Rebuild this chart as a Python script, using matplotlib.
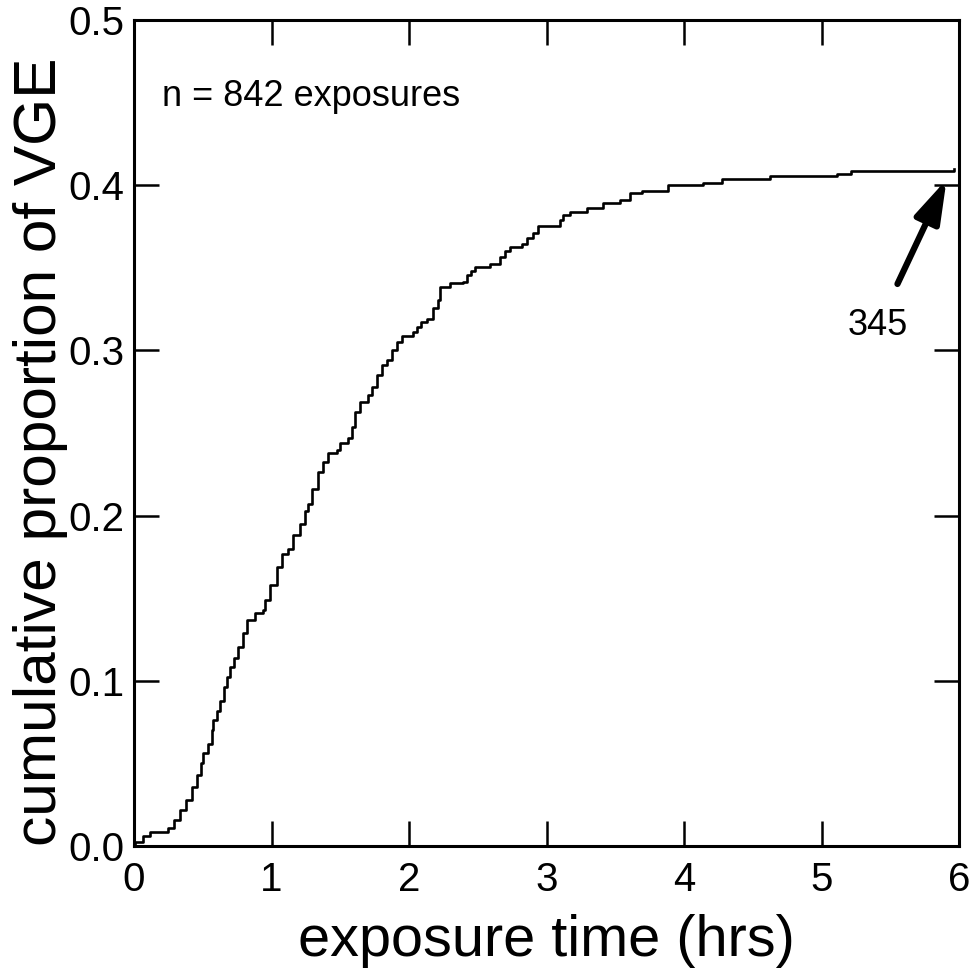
import matplotlib
matplotlib.use("Agg")
import matplotlib.pyplot as plt

plt.rcParams['font.family'] = ['Liberation Sans', 'DejaVu Sans']

# step change points of the cumulative curve (hrs, proportion)
exposure_hrs = [
    0.00, 0.01, 0.065, 0.115, 0.25, 0.29, 0.335, 0.38, 0.42, 0.46,
    0.49, 0.505, 0.535, 0.565, 0.572, 0.60, 0.625, 0.655, 0.674, 0.698,
    0.73, 0.759, 0.79, 0.82, 0.88, 0.94, 0.953, 0.989, 1.038, 1.074,
    1.122, 1.159, 1.207, 1.244, 1.268, 1.292, 1.34, 1.377, 1.413, 1.474,
    1.498, 1.559, 1.583, 1.607, 1.644, 1.704, 1.729, 1.765, 1.801, 1.838,
    1.874, 1.91, 1.947, 2.032, 2.056, 2.09, 2.128, 2.177, 2.213, 2.225,
    2.298, 2.395, 2.419, 2.45, 2.48, 2.589, 2.662, 2.70, 2.735, 2.82,
    2.86, 2.904, 2.94, 3.10, 3.122, 3.171, 3.292, 3.413, 3.535, 3.607,
    3.692, 3.886, 4.14, 4.274, 4.625, 5.11, 5.212, 5.96,
]
cum_prop = [
    0.000, 0.0025, 0.006, 0.0087, 0.011, 0.016, 0.022, 0.028, 0.036, 0.043,
    0.050, 0.056, 0.062, 0.070, 0.076, 0.082, 0.088, 0.096, 0.1025, 0.1085,
    0.114, 0.1206, 0.129, 0.137, 0.141, 0.143, 0.149, 0.158, 0.169, 0.177,
    0.180, 0.188, 0.195, 0.203, 0.207, 0.216, 0.2266, 0.2326, 0.238, 0.2397,
    0.2437, 0.2467, 0.2538, 0.2628, 0.2689, 0.273, 0.278, 0.2851, 0.2911, 0.294,
    0.300, 0.305, 0.309, 0.3113, 0.3143, 0.317, 0.319, 0.3255, 0.3305, 0.3385,
    0.3405, 0.3415, 0.3456, 0.348, 0.3506, 0.3526, 0.3567, 0.360, 0.3627, 0.3647,
    0.368, 0.3708, 0.3753, 0.379, 0.382, 0.384, 0.386, 0.389, 0.391, 0.395,
    0.3966, 0.400, 0.4016, 0.4035, 0.4056, 0.4066, 0.4088, 0.4096,
]

x_ticks = [0, 1, 2, 3, 4, 5, 6]
y_ticks = [0.0, 0.1, 0.2, 0.3, 0.4, 0.5]

fig = plt.figure(figsize=(9.75, 9.68), dpi=100)
ax = fig.add_axes([134 / 975, 1 - 846 / 968, 825 / 975, 826 / 968])

ax.step(exposure_hrs, cum_prop, where="post", color="black", lw=1.9)

ax.set_xlim(0, 6)
ax.set_ylim(0, 0.5)
ax.set_xticks(x_ticks)
ax.set_yticks(y_ticks)
ax.set_xticklabels([str(t) for t in x_ticks])
ax.set_yticklabels([f"{t:.1f}" for t in y_ticks])
ax.tick_params(direction="in", length=18, width=1.8, labelsize=29,
               top=True, right=True)
ax.tick_params(axis="x", pad=11)
ax.tick_params(axis="y", pad=7)
for s in ax.spines.values():
    s.set_linewidth(2.2)

ax.set_xlabel("exposure time (hrs)", fontsize=41.5, labelpad=10.5)
ax.set_ylabel("cumulative proportion of VGE", fontsize=43.5)
ax.yaxis.set_label_coords(-0.08, 0.477)

ax.text(0.2, 0.4534, "n = 842 exposures", fontsize=26, ha="left", va="center")

ax.annotate("345", xy=(5.91, 0.4035), xytext=(5.41, 0.315),
            fontsize=26, ha="center", va="center",
            arrowprops=dict(arrowstyle="-|>,head_length=1.3,head_width=0.4",
                            lw=4.5, color="black", shrinkA=17, shrinkB=0,
                            mutation_scale=20))

fig.savefig("out.png", dpi=100)
